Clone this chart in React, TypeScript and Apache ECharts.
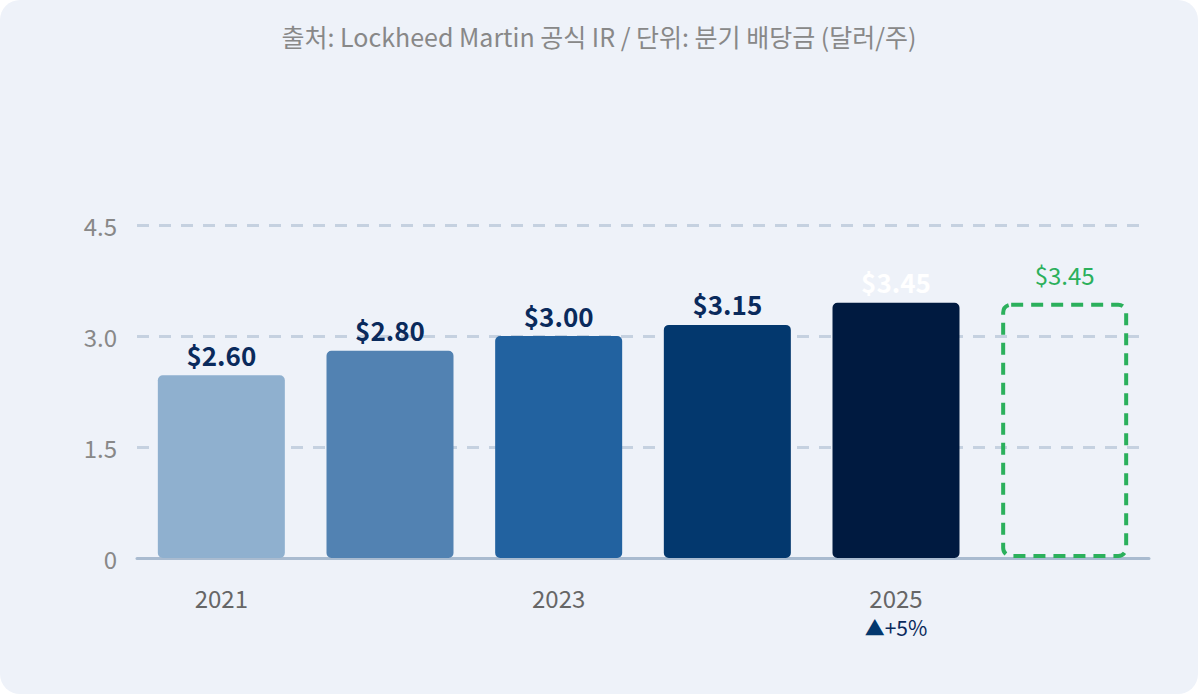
import * as echarts from "echarts";
import { useEffect, useRef } from "react";

const categories = ["2021", "2022", "2023", "2024", "2025", "2026E"];
const barValues = [2.47, 2.8, 3.0, 3.15, 3.45, 3.45];
const valueLabels = ["$2.60", "$2.80", "$3.00", "$3.15", "$3.45", "$3.45"];
const barColors = ["#8fb0cf", "#5282b2", "#2262a0", "#03386e", "#001a40", "transparent"];
const labelColors = ["#0a2a5c", "#0a2a5c", "#0a2a5c", "#0a2a5c", "#ffffff", "#2bb05c"];
const yTicks = [0, 1.5, 3.0, 4.5];

const FONT = "'Noto Sans CJK KR', 'Noto Sans', sans-serif";
const GREEN = "#2bb05c";

function App() {
  const chartRef = useRef(null);

  useEffect(() => {
    document.body.style.margin = "0";
    const chartInstance = echarts.init(chartRef.current, null, { renderer: "svg" });

    const options = {
      animation: false,
      textStyle: { fontFamily: FONT },
      title: {
        text: "출처: Lockheed Martin 공식 IR / 단위: 분기 배당금 (달러/주)",
        left: "center",
        top: 18,
        textStyle: { color: "#888", fontSize: 25, fontWeight: "normal", fontFamily: FONT },
      },
      grid: { left: 137, right: 49, top: 225, bottom: 136 },
      xAxis: {
        type: "category",
        data: categories,
        axisLine: { lineStyle: { color: "#a9bbd0", width: 3 } },
        axisTick: { show: false },
        axisLabel: {
          margin: 24,
          lineHeight: 30,
          fontSize: 24,
          color: "#666",
          formatter: (v: string) => {
            if (v === "2025") return "2025\n{tri|▲}{up|+5%}";
            if (v === "2026E") return "{g|2026E}\n{g|현행}";
            return v;
          },
          rich: {
            tri: { color: "#03386e", fontSize: 20, fontFamily: FONT },
            up: { color: "#0a2a5c", fontSize: 21, fontFamily: FONT },
            g: { color: GREEN, fontSize: 24, lineHeight: 32, fontFamily: FONT },
          },
        },
      },
      yAxis: {
        type: "value",
        min: 0,
        max: 4.5,
        interval: 1.5,
        axisLine: { show: false },
        axisTick: { show: false },
        axisLabel: {
          fontSize: 24,
          color: "#888",
          margin: 20,
          formatter: (v: number) => (yTicks.includes(v) ? (v === 0 ? "0" : v.toFixed(1)) : ""),
        },
        splitLine: { lineStyle: { color: "#c5d1e0", type: [12, 10], width: 3 } },
      },
      series: [
        {
          type: "bar",
          barWidth: 127,
          data: barValues.map((v, i) => ({
            value: v,
            itemStyle:
              i === 5
                ? {
                    color: "transparent",
                    borderColor: GREEN,
                    borderWidth: 4,
                    borderType: [12, 8],
                    borderRadius: 8,
                  }
                : { color: barColors[i], borderRadius: 5 },
            label: {
              show: true,
              position: "top",
              distance: i === 5 ? 16 : 8,
              formatter: valueLabels[i],
              color: labelColors[i],
              fontSize: i === 5 ? 24 : 26,
              fontWeight: i === 5 ? "normal" : "bold",
              fontFamily: FONT,
            },
          })),
        },
      ],
    };

    chartInstance.setOption(options);

    return () => {
      chartInstance.dispose();
    };
  }, []);

  return (
    <div style={{ width: 1198, height: 694, background: "#fff" }}>
      <div
        ref={chartRef}
        style={{ width: 1198, height: 694, background: "#eef2f9", borderRadius: 20 }}
      />
    </div>
  );
}

export default App;
